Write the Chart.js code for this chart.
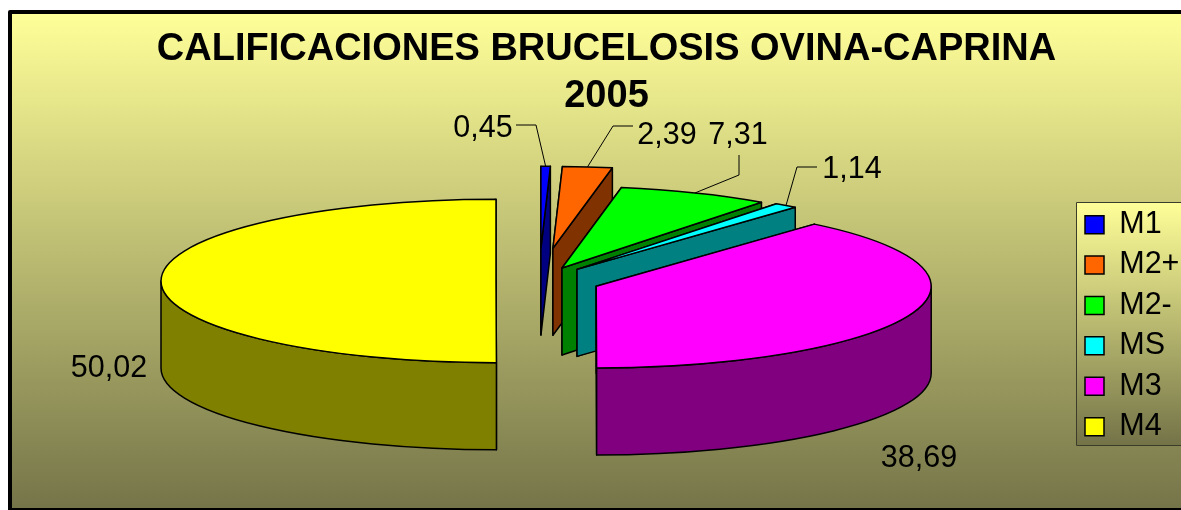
<!DOCTYPE html>
<html>
<head>
<meta charset="utf-8">
<style>
  html, body { margin: 0; padding: 0; background: #fff; }
  canvas { display: block; }
</style>
<script src="https://cdn.jsdelivr.net/npm/chart.js@4/dist/chart.umd.js"></script>
</head>
<body>
<canvas id="pieChart" width="1181" height="510"></canvas>
<script>
// Data
const categories = ['M1', 'M2+', 'M2-', 'MS', 'M3', 'M4'];
const values = [0.45, 2.39, 7.31, 1.14, 38.69, 50.02];
const chartTitle = ['CALIFICACIONES BRUCELOSIS OVINA-CAPRINA', '2005'];

// Style
const topColors = ['#0000FF', '#FF6600', '#00FF00', '#00FFFF', '#FF00FF', '#FFFF00'];
const wallColors = ['#000080', '#803300', '#008000', '#008080', '#800080', '#808000'];
const explode = [135, 135, 58, 61, 61, 43];
const labelSpots = [[483, 129], [667, 136], [738, 136], [852, 170], [919, 459], [109, 369]];
const leaderBends = [
  [[516, 125], [536, 125]],
  [[633, 126], [613, 126]],
  [[739, 155], [739, 175]],
  [[817, 167], [797, 167]],
  null,
  null
];

const TILT = 0.244;
const DEPTH = 87;
const LINE = 1.5;
const plotBox = { left: 32, right: 1046, top: 124, bottom: 438 };

function sliceGeom(el, i) {
  const p = el.getProps(['x', 'y', 'startAngle', 'endAngle', 'outerRadius'], true);
  const mid = (p.startAngle + p.endAngle) / 2;
  const cx = p.x + Math.cos(mid) * explode[i];
  const cy = p.y + Math.sin(mid) * explode[i] * TILT;
  const rim = a => [cx + Math.cos(a) * p.outerRadius, cy + Math.sin(a) * p.outerRadius * TILT];
  return { ...p, mid, cx, cy, rim };
}

function fillStroke(ctx, color) {
  ctx.fillStyle = color;
  ctx.fill();
  ctx.stroke();
}

function drawWalls(ctx, g, color) {
  // flat cut faces first, then the curved front
  [g.startAngle, g.endAngle].forEach(a => {
    const [x, y] = g.rim(a);
    ctx.beginPath();
    ctx.moveTo(g.cx, g.cy);
    ctx.lineTo(x, y);
    ctx.lineTo(x, y + DEPTH);
    ctx.lineTo(g.cx, g.cy + DEPTH);
    ctx.closePath();
    fillStroke(ctx, color);
  });

  const r = g.outerRadius;
  const from = Math.max(g.startAngle, 0);
  const to = Math.min(g.endAngle, Math.PI);
  if (to > from) {
    ctx.beginPath();
    ctx.ellipse(g.cx, g.cy, r, r * TILT, 0, from, to);
    ctx.ellipse(g.cx, g.cy + DEPTH, r, r * TILT, 0, to, from, true);
    ctx.closePath();
    fillStroke(ctx, color);
  }
}

function outlineTop(ctx, g) {
  ctx.beginPath();
  ctx.moveTo(g.cx, g.cy);
  ctx.ellipse(g.cx, g.cy, g.outerRadius, g.outerRadius * TILT, 0, g.startAngle, g.endAngle);
  ctx.closePath();
  ctx.stroke();
}

// Pie controller that tilts the slices and gives them a side wall
class Pie3DController extends Chart.PieController {
  draw() {
    const ctx = this.chart.ctx;
    const area = this.chart.chartArea;
    this.getMeta().data.forEach((el, i) => {
      const g = sliceGeom(el, i);
      ctx.save();
      ctx.lineWidth = LINE;
      ctx.strokeStyle = '#000';
      ctx.lineJoin = 'round';
      drawWalls(ctx, g, wallColors[i]);

      ctx.save();
      ctx.translate(g.cx, g.cy);
      ctx.scale(1, TILT);
      ctx.translate(-g.x, -g.y);
      el.draw(ctx, area);
      ctx.restore();

      outlineTop(ctx, g);
      ctx.restore();
    });
  }
}
Pie3DController.id = 'pie3d';
Chart.register(Pie3DController);

const framePlugin = {
  id: 'frame',
  afterLayout(chart) {
    // pie position is independent of the legend width
    Object.assign(chart.chartArea, plotBox, {
      width: plotBox.right - plotBox.left,
      height: plotBox.bottom - plotBox.top
    });
    const lg = chart.legend;
    lg.left = 1075.1;
    lg.right = 1181;
    lg.top = 199.5;
    lg.bottom = 510;
  },
  beforeDraw(chart) {
    const ctx = chart.ctx;
    const bg = ctx.createLinearGradient(0, 12, 0, 510);
    bg.addColorStop(0, '#FFFF99');
    bg.addColorStop(1, '#747449');
    ctx.save();
    ctx.fillStyle = bg;
    ctx.fillRect(10, 12, 1175, 500);
    ctx.strokeStyle = '#000';
    ctx.lineWidth = 4;
    ctx.lineJoin = 'round';
    ctx.strokeRect(10, 12, 1180, 498);

    // legend panel
    const panel = ctx.createLinearGradient(0, 202, 0, 445);
    panel.addColorStop(0, '#FFFF99');
    panel.addColorStop(1, '#737348');
    ctx.fillStyle = panel;
    ctx.fillRect(1076.5, 202.5, 110, 243);
    ctx.strokeStyle = '#3c3c2a';
    ctx.lineWidth = 1;
    ctx.strokeRect(1076.5, 202.5, 110, 243);
    ctx.restore();
  },
  afterDatasetsDraw(chart) {
    const ctx = chart.ctx;
    const data = chart.getDatasetMeta(0).data;
    ctx.save();
    ctx.fillStyle = '#000';
    ctx.strokeStyle = '#000';
    ctx.lineWidth = 1;
    ctx.font = '30.5px "Liberation Sans", Arial, sans-serif';
    ctx.textAlign = 'center';
    ctx.textBaseline = 'middle';
    values.forEach((v, i) => {
      ctx.fillText(v.toFixed(2).replace('.', ','), labelSpots[i][0], labelSpots[i][1]);
      if (leaderBends[i]) {
        const g = sliceGeom(data[i], i);
        const [x, y] = g.rim(g.mid);
        ctx.beginPath();
        ctx.moveTo(leaderBends[i][0][0], leaderBends[i][0][1]);
        ctx.lineTo(leaderBends[i][1][0], leaderBends[i][1][1]);
        ctx.lineTo(x, y);
        ctx.stroke();
      }
    });
    ctx.restore();
  }
};

new Chart(document.getElementById('pieChart'), {
  type: 'pie3d',
  data: {
    labels: categories,
    datasets: [{
      data: values,
      backgroundColor: topColors,
      borderWidth: 0,
      clip: false
    }]
  },
  options: {
    responsive: false,
    maintainAspectRatio: false,
    animation: false,
    radius: 335,
    layout: { padding: { left: 32, right: 0, top: 0, bottom: 0 } },
    plugins: {
      title: {
        display: true,
        text: chartTitle,
        color: '#000',
        font: { family: '"Liberation Sans", Arial, sans-serif', size: 38, weight: 'bold', lineHeight: 1.237 },
        padding: { top: 26, bottom: 6 }
      },
      legend: {
        position: 'right',
        align: 'start',
        labels: {
          color: '#000',
          boxWidth: 19,
          boxHeight: 18,
          padding: 9.9,
          font: { family: '"Liberation Sans", Arial, sans-serif', size: 30.5 },
          generateLabels: chart => Chart.PieController.overrides.plugins.legend.labels
            .generateLabels(chart)
            .map(item => ({ ...item, lineWidth: LINE, strokeStyle: '#000' }))
        }
      },
      tooltip: { enabled: false }
    }
  },
  plugins: [framePlugin]
});
</script>
</body>
</html>
